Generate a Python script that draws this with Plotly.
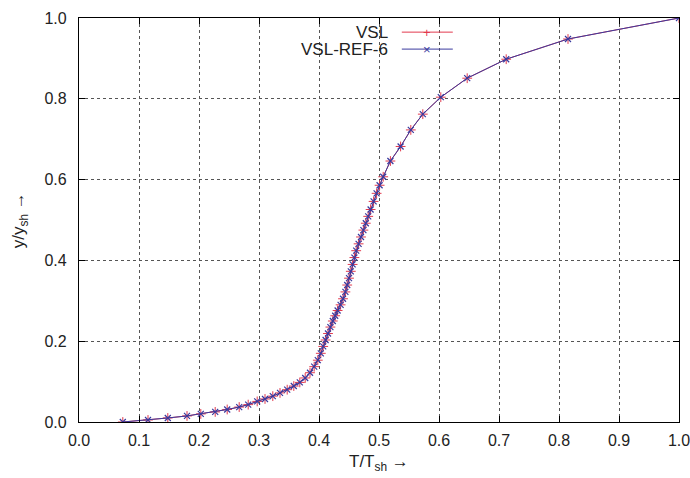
import plotly.graph_objects as go

# ---- data ----
t_ratio = [0.073, 0.115, 0.148, 0.180, 0.203, 0.227, 0.247, 0.267, 0.282, 0.297,
           0.310, 0.323, 0.335, 0.347, 0.358, 0.368, 0.377, 0.385, 0.392, 0.398,
           0.403, 0.407, 0.411, 0.415, 0.419, 0.423, 0.427, 0.431, 0.436, 0.440,
           0.444, 0.447, 0.450, 0.453, 0.456, 0.459, 0.462, 0.466, 0.470, 0.474,
           0.478, 0.482, 0.486, 0.491, 0.496, 0.501, 0.507, 0.519, 0.536, 0.553,
           0.573, 0.603, 0.647, 0.712, 0.815, 1.000]
y_vsl = [0.000, 0.005, 0.010, 0.015, 0.020, 0.025, 0.031, 0.037, 0.043, 0.051,
         0.057, 0.064, 0.072, 0.080, 0.089, 0.098, 0.109, 0.122, 0.137, 0.153,
         0.170, 0.187, 0.203, 0.219, 0.235, 0.250, 0.263, 0.276, 0.290, 0.305,
         0.322, 0.339, 0.356, 0.373, 0.390, 0.407, 0.424, 0.441, 0.458, 0.475,
         0.492, 0.509, 0.526, 0.546, 0.566, 0.586, 0.607, 0.646, 0.682, 0.723,
         0.762, 0.804, 0.851, 0.898, 0.948, 1.000]
y_ref6 = list(y_vsl)

series_names = ["VSL", "VSL-REF-6"]
series_colors = ["#e23a4e", "#3a3a9e"]
x_ticks = [0.0, 0.1, 0.2, 0.3, 0.4, 0.5, 0.6, 0.7, 0.8, 0.9, 1.0]
y_ticks = [0.0, 0.2, 0.4, 0.6, 0.8, 1.0]

FONT = "Liberation Sans, Arial, sans-serif"

fig = go.Figure()
fig.add_trace(go.Scatter(
    x=t_ratio, y=y_vsl, mode="lines+markers", name=series_names[0],
    line=dict(color=series_colors[0], width=1),
    marker=dict(symbol="cross-thin", size=7,
                line=dict(color=series_colors[0], width=1), color=series_colors[0]),
    showlegend=False))
fig.add_trace(go.Scatter(
    x=t_ratio, y=y_ref6, mode="lines+markers", name=series_names[1],
    line=dict(color=series_colors[1], width=1),
    marker=dict(symbol="x-thin", size=6,
                line=dict(color=series_colors[1], width=1.2), color=series_colors[1]),
    showlegend=False))

axis_common = dict(
    showline=True, linecolor="black", linewidth=1.2, mirror="ticks",
    ticks="inside", ticklen=6, tickwidth=1, tickcolor="black",
    showgrid=True, gridcolor="#555555", griddash="dot", gridwidth=1,
    zeroline=False, tickfont=dict(family=FONT, size=16, color="#222222"),
    tickformat=".1f", automargin=False, ticklabeloverflow="allow",
)
fig.update_xaxes(range=[0, 1], tickvals=x_ticks, ticklabelstandoff=4, **axis_common)
fig.update_yaxes(range=[0, 1], tickvals=y_ticks, ticklabelstandoff=8, **axis_common)

# legend (gnuplot-style: text right-aligned, then sample)
shapes = [dict(type="rect", xref="paper", yref="paper", x0=0.352, x1=0.643,
               y0=0.901, y1=0.999, fillcolor="white", line=dict(width=0), layer="below")]
annotations = []
leg_y = [0.965, 0.923]
glyphs = ["+", "×"]
for name, col, yy, g in zip(series_names, series_colors, leg_y, glyphs):
    annotations.append(dict(xref="paper", yref="paper", x=0.518, y=yy, text=name,
                            showarrow=False, xanchor="right", yanchor="middle",
                            font=dict(family=FONT, size=17, color="#222222")))
    shapes.append(dict(type="line", xref="paper", yref="paper", x0=0.538, x1=0.623,
                       y0=yy, y1=yy, line=dict(color=col, width=1)))
    annotations.append(dict(xref="paper", yref="paper", x=0.5805, y=yy, text=g,
                            showarrow=False, xanchor="center", yanchor="middle",
                            font=dict(family=FONT, size=13, color=col)))

# axis titles
annotations.append(dict(xref="paper", yref="paper", x=0.5, y=-0.102,
                        text="T/T<sub>sh</sub> →", showarrow=False,
                        xanchor="center", yanchor="middle",
                        font=dict(family=FONT, size=17, color="#222222")))
annotations.append(dict(xref="paper", yref="paper", x=-0.098, y=0.5,
                        text="y/y<sub>sh</sub> →", showarrow=False, textangle=-90,
                        xanchor="center", yanchor="middle",
                        font=dict(family=FONT, size=17, color="#222222")))

fig.update_layout(
    width=690, height=478,
    margin=dict(l=79, r=11, t=18, b=56),
    paper_bgcolor="white", plot_bgcolor="white",
    shapes=shapes, annotations=annotations,
    showlegend=False,
)

# remove the default page margin / scrollbars so the figure fills the window exactly
fig.write_html(
    "out.html",
    config={"displayModeBar": False},
    post_script="document.body.style.margin='0';document.body.style.overflow='hidden';",
)
